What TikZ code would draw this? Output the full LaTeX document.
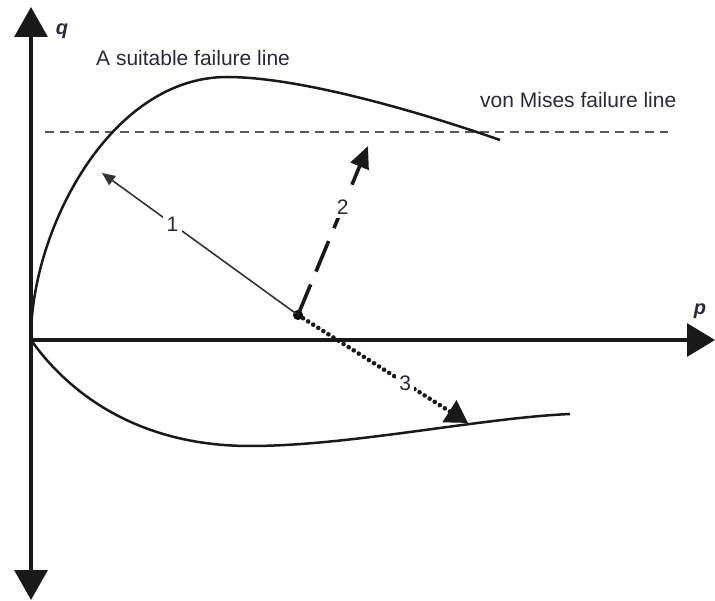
\documentclass[tikz,border=0pt]{standalone}
\usepackage{fontspec}
\setmainfont{Liberation Sans}
\usetikzlibrary{arrows.meta}
\definecolor{txt}{rgb}{0.16,0.16,0.22}
\definecolor{dashgray}{rgb}{0.35,0.35,0.35}
\tikzset{
  axisline/.style={line width=3.2pt, black!90,
     {Triangle[length=30pt,width=33pt]}-{Triangle[length=30pt,width=33pt]}},
  axisone/.style={line width=3.2pt, black!90, -{Triangle[length=28pt,width=33pt]}},
  failcurve/.style={line width=2.5pt, black!90},
  misesline/.style={line width=1.8pt, dashgray, dash pattern=on 9pt off 6pt},
  lbl/.style={font=\fontsize{21}{24}\selectfont, text=txt, inner sep=0pt},
  axlbl/.style={font=\fontsize{20}{22}\selectfont\bfseries\itshape, text=txt, inner sep=0pt},
  numlbl/.style={font=\fontsize{21}{22}\selectfont, text=txt, fill=white, inner sep=4pt},
  pathone/.style={line width=1.6pt, black!80, -{Triangle[length=13pt,width=11pt]}},
  pathtwo/.style={line width=3.6pt, black!90, dash pattern=on 33pt off 14pt, -{Triangle[length=22pt,width=19pt]}},
  paththree/.style={line width=4.6pt, black!90, line cap=round, dash pattern=on 0pt off 6pt, -{Triangle[length=22pt,width=25pt,line cap=butt]}},
  dotpt/.style={circle, fill=black, inner sep=0pt, minimum size=10pt},
}
\begin{document}
\begin{tikzpicture}[x=1pt,y=-1pt]
\useasboundingbox (0,0) rectangle (715,601);
% coordinates
\coordinate (O) at (31,340);
\coordinate (qtop) at (31,7);
\coordinate (qbot) at (31,600);
\coordinate (pend) at (715,340);
\coordinate (m1) at (45,132);
\coordinate (m2) at (668,132);
\coordinate (t1) at (102,173);
\coordinate (t2) at (368,146);
\coordinate (t3) at (468,423);
% von Mises line
\draw[misesline] (m1) -- (m2);
% failure curve
\draw[failcurve] (31,338) .. controls (31,230) and (110,77) .. (227,77)
   .. controls (300,77) and (420,112) .. (500,140);
\draw[failcurve] (31,340) .. controls (70,395) and (140,446) .. (250,446)
   .. controls (350,446) and (480,418) .. (570,414);
% axes
\draw[axisline] (qbot) -- (qtop);
\draw[axisone] (O) -- (pend);
% labels
\node[axlbl] (qlab) at (62,31) {q};
\node[axlbl] (plab) at (700,311) {p};
\node[lbl, anchor=west] (suit) at (96,58) {A suitable failure line};
\node[lbl, anchor=west] (mises) at (480,100) {von Mises failure line};
% stress point and paths
\node[dotpt] (P) at (298,315) {};
\draw[pathone] (P.center) -- node[numlbl, pos=0.64] (n1) {1} (t1);
\draw[pathtwo] (P.center) -- node[numlbl, pos=0.64] (n2) {2} (t2);
\draw[paththree] (P.center) -- node[numlbl, pos=0.63, inner sep=3pt] (n3) {3} (t3);
\end{tikzpicture}
\end{document}
